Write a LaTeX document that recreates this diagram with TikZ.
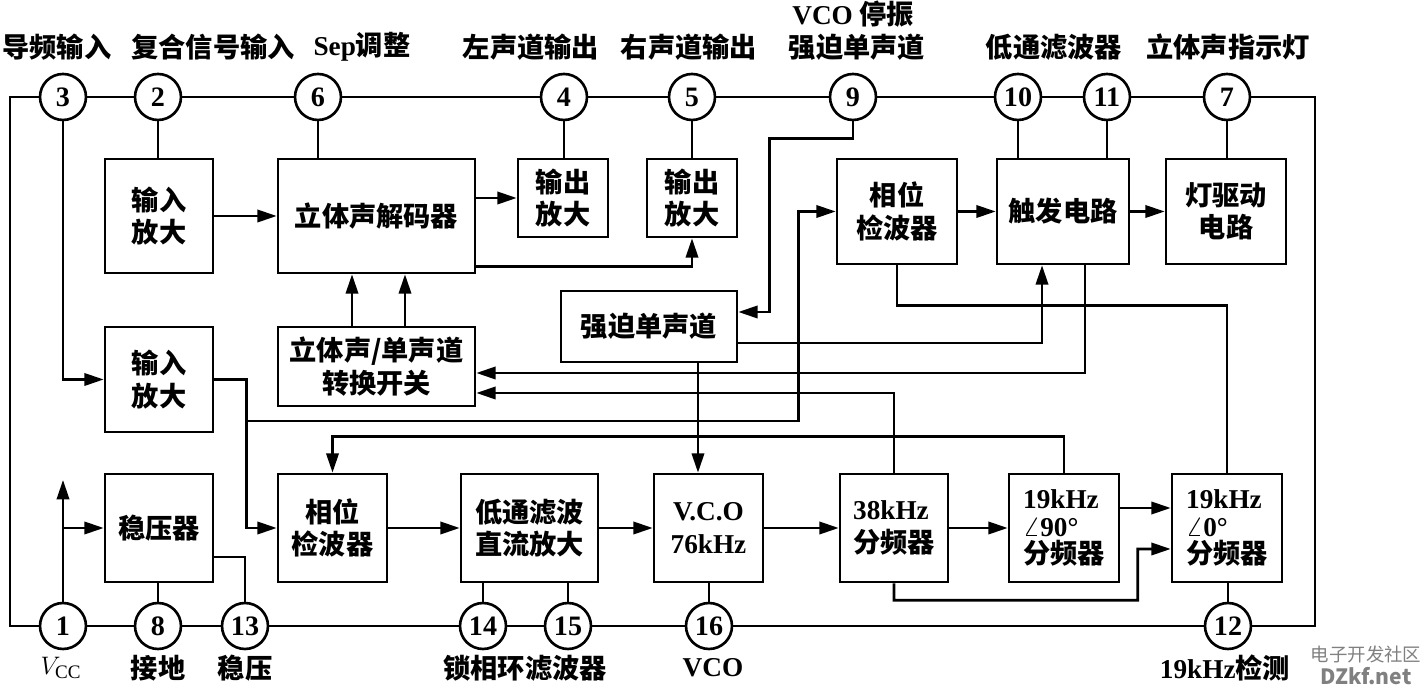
\documentclass[tikz,border=0pt]{standalone}
\usepackage{fontspec}
\setmainfont{Liberation Serif}
\newfontfamily\zh{Noto Sans CJK SC}
\usetikzlibrary{arrows.meta,calc,positioning}

\begin{document}
\begin{tikzpicture}[x=0.02cm, y=0.02cm,
    wire/.style={line width=1.5pt},
    arr/.style={wire, -{Triangle[length=11pt,width=7pt]}},
    blk/.style={draw, line width=1.5pt, align=center, inner sep=2pt,
                font=\zh\bfseries\fontsize{15.5}{18.5}\selectfont},
    latin/.style={font=\bfseries\fontsize{15.5}{18.5}\selectfont},
    pin/.style={draw, circle, line width=1.5pt, minimum size=0.92cm, inner sep=0pt,
                fill=white, font=\bfseries\fontsize{16}{16}\selectfont},
    lbl/.style={inner sep=0pt, font=\zh\bfseries\fontsize{15.5}{18}\selectfont}]
    \useasboundingbox (0,0) rectangle (1420,686);

    % pinos de cima
    \node[pin] (p3)  at (63,589)   {3};
    \node[pin] (p2)  at (158,589)  {2};
    \node[pin] (p6)  at (318,589)  {6};
    \node[pin] (p4)  at (564,589)  {4};
    \node[pin] (p5)  at (692,589)  {5};
    \node[pin] (p9)  at (853,589)  {9};
    \node[pin] (p10) at (1018,589) {10};
    \node[pin] (p11) at (1107,589) {11};
    \node[pin] (p7)  at (1227,589) {7};
    % pinos de baixo
    \node[pin] (p1)  at (63,60)    {1};
    \node[pin] (p8)  at (158,60)   {8};
    \node[pin] (p13) at (245,60)   {13};
    \node[pin] (p14) at (483,60)   {14};
    \node[pin] (p15) at (568,60)   {15};
    \node[pin] (p16) at (709,60)   {16};
    \node[pin] (p12) at (1228,60)  {12};
    \coordinate (tl) at (10,589);
    \coordinate (tr) at (1315,589);
    \coordinate (br) at (1315,60);
    \coordinate (bl) at (10,60);

    % textos dos pinos
    \node[lbl] (l3)  at (57,639)   {导频输入};
    \node[lbl] (l2)  at (213,639)  {复合信号输入};
    \node[lbl] (l6)  at (362,639)  {{\rmfamily Sep}调整};
    \node[lbl] (l4)  at (531,639)  {左声道输出};
    \node[lbl] (l5)  at (689,639)  {右声道输出};
    \node[lbl] (l9b) at (853,672)  {{\rmfamily VCO} 停振};
    \node[lbl] (l9)  at (857,639)  {强迫单声道};
    \node[lbl] (l10) at (1054,639) {低通滤波器};
    \node[lbl] (l7)  at (1228,639) {立体声指示灯};
    \node[lbl] (l1)  at (61,18)    {$V_{\mathrm{CC}}$};
    \node[lbl] (l8)  at (158,18)   {接地};
    \node[lbl] (l13) at (245,18)   {稳压};
    \node[lbl] (l14) at (525,18)   {锁相环滤波器};
    \node[lbl] (l16) at (713,18)   {\rmfamily VCO};
    \node[lbl] (l12) at (1225,18)  {{\rmfamily 19kHz}检测};
    \node[lbl, text=gray, font=\zh\fontsize{10.5}{12}\selectfont] (wm1) at (1366,32) {电子开发社区};
    \node[lbl, text=gray, font=\zh\bfseries\fontsize{12}{12}\selectfont] (wm2) at (1366,10) {DZkf.net};

    % blocos
    \node[blk, minimum width=2.16cm, minimum height=2.28cm] (amp1) at (159,470)   {输入\\放大};
    \node[blk, minimum width=3.94cm, minimum height=2.28cm] (dec)  at (376.5,470) {立体声解码器};
    \node[blk, minimum width=1.8cm,  minimum height=1.56cm] (out4) at (563,488)   {输出\\放大};
    \node[blk, minimum width=1.8cm,  minimum height=1.56cm] (out5) at (692,488)   {输出\\放大};
    \node[blk, minimum width=2.4cm,  minimum height=2.1cm]  (ph1)  at (897,474.5) {相位\\检波器};
    \node[blk, minimum width=2.64cm, minimum height=2.1cm]  (trig) at (1063,474.5) {触发电路};
    \node[blk, minimum width=2.4cm,  minimum height=2.1cm]  (lamp) at (1226,474.5) {灯驱动\\电路};
    \node[blk, minimum width=3.52cm, minimum height=1.42cm] (mono) at (649,359.5) {强迫单声道};
    \node[blk, minimum width=3.94cm, minimum height=1.58cm] (sw)   at (376.5,319.5) {立体声/单声道\\转换开关};
    \node[blk, minimum width=2.16cm, minimum height=2.1cm]  (amp2) at (159,306.5) {输入\\放大};
    \node[blk, minimum width=2.16cm, minimum height=2.16cm] (reg)  at (159,158)   {稳压器};
    \node[blk, minimum width=2.18cm, minimum height=2.16cm] (ph2)  at (332.5,158) {相位\\检波器};
    \node[blk, minimum width=2.74cm, minimum height=2.16cm] (lpf)  at (529.5,158) {低通滤波\\直流放大};
    \node[blk, latin, minimum width=2.18cm, minimum height=2.16cm] (vco) at (708.5,158) {V.C.O\\76kHz};
    \node[blk, align=left, minimum width=2.16cm, minimum height=2.16cm] (d38) at (894,158) {{\rmfamily 38kHz}\\分频器};
    \node[blk, align=left, minimum width=2.2cm, minimum height=2.16cm] (d90) at (1064,158)
        {{\rmfamily 19kHz}\\[-3pt]{\rmfamily\boldmath$\angle$90°}\\[-3pt]分频器};
    \node[blk, align=left, minimum width=2.2cm, minimum height=2.16cm] (d0) at (1227,158)
        {{\rmfamily 19kHz}\\[-3pt]{\rmfamily\boldmath$\angle$0°}\\[-3pt]分频器};

    % contorno
    \draw[wire] (p3) -- (p2) -- (p6) -- (p4) -- (p5) -- (p9) -- (p10) -- (p11) -- (p7)
                -- (tr) -- (br) -- (p12) -- (p16) -- (p15) -- (p14) -- (p13) -- (p8) -- (p1)
                -- (bl) -- (tl) -- (p3);

    % pinos ligados aos blocos
    \draw[wire] (p2) -- (p2 |- amp1.north);
    \draw[wire] (p6) -- (p6 |- dec.north);
    \draw[wire] (p4) -- (p4 |- out4.north);
    \draw[wire] (p5) -- (p5 |- out5.north);
    \draw[wire] (p10) -- (p10 |- trig.north);
    \draw[wire] (p11) -- (p11 |- trig.north);
    \draw[wire] (p7) -- (p7 |- lamp.north);
    \draw[wire] (p8) -- (p8 |- reg.south);
    \draw[wire] (p14) -- (p14 |- lpf.south);
    \draw[wire] (p15) -- (p15 |- lpf.south);
    \draw[wire] (p16) -- (p16 |- vco.south);
    \draw[wire] (p12) -- (p12 |- d0.south);

    % parte de cima
    \draw[arr] (p3) |- (amp2);
    \draw[arr] (amp1) -- (dec);
    \draw[arr] (dec.east |- out4) -- (out4);
    \draw[arr] ($(dec.south east)+(0,8)$) -| (out5);
    \draw[arr] ([xshift=-0.49cm]sw.north) -- ([xshift=-0.49cm]dec.south);
    \draw[arr] ([xshift=0.57cm]sw.north) -- ([xshift=0.57cm]dec.south);
    \draw[arr] (p9.south) -- ++(0,-17) -| ($(mono.east)+(31,14.5)$) -- ($(mono.east)+(0,14.5)$);
    \draw[arr] (ph1) -- (trig);
    \draw[arr] (trig) -- (lamp);
    \draw[wire] (ph1.south) -- ++(0,-40) -| (d0.north);
    \draw[arr] ([yshift=-0.33cm]mono.east) -| ([xshift=-0.42cm]trig.south);
    \draw[arr] ([xshift=0.44cm]trig.south) |- ([yshift=-0.13cm]sw.east);
    \draw[arr] (d38.north) |- ([yshift=-0.53cm]sw.east);
    \draw[arr] ([xshift=0.98cm]mono.south) -- ([xshift=0.98cm]mono.south |- vco.north);

    % saida do segundo amplificador
    \coordinate (j1) at ($(amp2.east)+(32,0)$);
    \coordinate (j2) at ($(j1)+(0,-41.5)$);
    \draw[arr] (amp2.east) -- (j1) |- (ph2);
    \draw[arr] (j2) -| ($(ph1.west)+(-37,0)$) -- (ph1);

    % parte de baixo
    \draw[arr] (d90.north) -- ++(0,36) -| (ph2.north);
    \draw[arr] (ph2) -- (lpf);
    \draw[arr] (lpf) -- (vco);
    \draw[arr] (vco) -- (d38);
    \draw[arr] (d38) -- (d90);
    \draw[arr] ([yshift=0.4cm]d90.east) -- ([yshift=0.4cm]d90.east -| d0.west);
    \draw[arr] (d38.south) -- ++(0,-17) -| ($(d0.west)+(-33,-21)$) -- ([yshift=-0.42cm]d0.west);

    % alimentacao
    \coordinate (vcc) at (63,206);
    \draw[arr] (p1) -- (vcc);
    \draw[arr] (p1 |- reg.west) -- (reg);
    \draw[wire] ([yshift=-0.58cm]reg.east) -| (p13);

\end{tikzpicture}
\end{document}
